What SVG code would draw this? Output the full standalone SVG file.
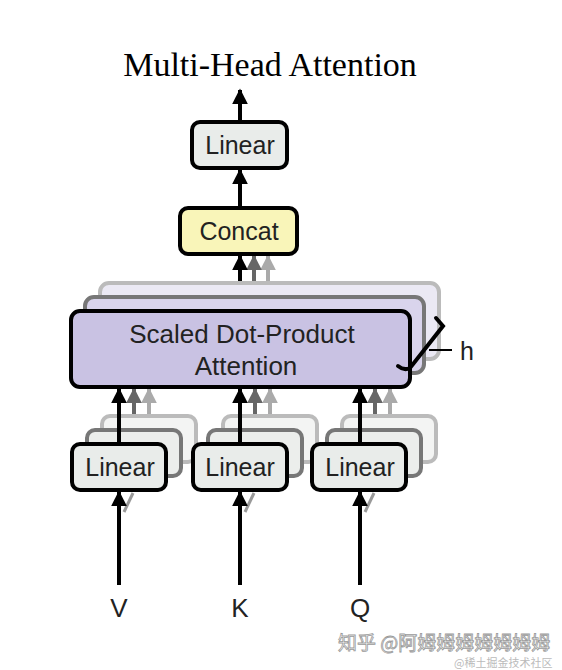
<svg xmlns="http://www.w3.org/2000/svg" width="562" height="670" viewBox="0 0 562 670">
<defs>
<marker id="ah" viewBox="0 0 10 10" refX="9" refY="5" markerWidth="4" markerHeight="4" orient="auto" markerUnits="strokeWidth"><path d="M0,0 L10,5 L0,10 z" fill="#000"/></marker>
<marker id="ahg" viewBox="0 0 10 10" refX="9" refY="5" markerWidth="4" markerHeight="4" orient="auto" markerUnits="strokeWidth"><path d="M0,0 L10,5 L0,10 z" fill="#666"/></marker>
<marker id="ahl" viewBox="0 0 10 10" refX="9" refY="5" markerWidth="4" markerHeight="4" orient="auto" markerUnits="strokeWidth"><path d="M0,0 L10,5 L0,10 z" fill="#aaa"/></marker>
</defs>
<style>
.lbl{font-family:"Liberation Sans",Arial,sans-serif;font-size:25px;fill:#222;text-anchor:middle}
.big{font-size:26px}
.box{stroke:#000;stroke-width:4}
.lin{fill:#e9ecea}
.b2{stroke:#777;stroke-width:4}
.b3{stroke:#bbb;stroke-width:4}
.a{stroke:#000;stroke-width:4;fill:none;marker-end:url(#ah)}
.ag{stroke:#666;stroke-width:4;fill:none;marker-end:url(#ahg)}
.al{stroke:#aaa;stroke-width:4;fill:none;marker-end:url(#ahl)}
</style>
<rect width="562" height="670" fill="#fff"/>
<text x="270" y="76" font-family="Liberation Serif,'Times New Roman',serif" font-size="34" fill="#000" text-anchor="middle">Multi-Head Attention</text>

<g id="connectors">
<line class="a" x1="240" y1="122" x2="240" y2="90"/>
<line class="a" x1="240" y1="208" x2="240" y2="170"/>
<line class="al" x1="268" y1="283" x2="268" y2="256"/>
<line class="ag" x1="254" y1="297" x2="254" y2="256"/>
<line class="a" x1="240" y1="311" x2="240" y2="256"/>
<line class="al" x1="149" y1="416" x2="149" y2="389"/>
<line class="ag" x1="134" y1="430" x2="134" y2="389"/>
<line class="al" x1="270" y1="416" x2="270" y2="389"/>
<line class="ag" x1="255" y1="430" x2="255" y2="389"/>
<line class="al" x1="390" y1="416" x2="390" y2="389"/>
<line class="ag" x1="375" y1="430" x2="375" y2="389"/>
</g>

<g id="sdpa">
<rect x="100" y="283" width="339" height="76" rx="9" fill="#ebe9f4" class="b3"/>
<rect x="85" y="297" width="339" height="76" rx="9" fill="#d9d4ec" class="b2"/>
<rect x="71" y="311" width="339" height="76" rx="9" fill="#c9c2e3" class="box"/>
<text class="lbl big" x="242" y="343">Scaled Dot-Product</text>
<text class="lbl big" x="246" y="375">Attention</text>
</g>

<g id="h-brace">
<path d="M436,318 L443,326 L410,368 Q404,371 398,366" fill="none" stroke="#000" stroke-width="4" stroke-linecap="round"/>
<line x1="429" y1="350" x2="452" y2="350" stroke="#000" stroke-width="2"/>
<text class="lbl" x="467" y="360">h</text>
</g>

<g id="concat">
<rect x="180" y="208" width="117" height="46" rx="8" fill="#f9f5b9" class="box"/>
<text class="lbl" x="239" y="240">Concat</text>
</g>

<g id="linear-top">
<rect x="192" y="122" width="95" height="46" rx="8" class="box lin"/>
<text class="lbl" x="240" y="154">Linear</text>
</g>

<g id="linear-v">
<rect x="102" y="416" width="94" height="46" rx="8" fill="#f3f4f3" class="b3"/>
<rect x="87" y="430" width="94" height="46" rx="8" fill="#eceeec" class="b2"/>
<rect x="72" y="444" width="94" height="46" rx="8" class="box lin"/>
<text class="lbl" x="120" y="476">Linear</text>
</g>
<g id="linear-k">
<rect x="223" y="416" width="94" height="46" rx="8" fill="#f3f4f3" class="b3"/>
<rect x="208" y="430" width="94" height="46" rx="8" fill="#eceeec" class="b2"/>
<rect x="193" y="444" width="94" height="46" rx="8" class="box lin"/>
<text class="lbl" x="240" y="476">Linear</text>
</g>
<g id="linear-q">
<rect x="342" y="416" width="94" height="46" rx="8" fill="#f3f4f3" class="b3"/>
<rect x="327" y="430" width="94" height="46" rx="8" fill="#eceeec" class="b2"/>
<rect x="312" y="444" width="94" height="46" rx="8" class="box lin"/>
<text class="lbl" x="360" y="476">Linear</text>
</g>

<g id="connectors-2">
<line class="a" x1="119" y1="444" x2="119" y2="389"/>
<line class="a" x1="240" y1="444" x2="240" y2="389"/>
<line class="a" x1="360" y1="444" x2="360" y2="389"/>
<line x1="124" y1="512" x2="133" y2="493" stroke="#999" stroke-width="3"/>
<line x1="245" y1="512" x2="254" y2="493" stroke="#999" stroke-width="3"/>
<line x1="365" y1="512" x2="374" y2="493" stroke="#999" stroke-width="3"/>
<line class="a" x1="119" y1="585" x2="119" y2="492"/>
<line class="a" x1="240" y1="585" x2="240" y2="492"/>
<line class="a" x1="360" y1="585" x2="360" y2="492"/>
</g>

<text class="lbl big" x="119" y="617">V</text>
<text class="lbl big" x="240" y="617">K</text>
<text class="lbl big" x="360" y="617">Q</text>

<text x="338" y="650" font-family="'Noto Sans CJK SC',sans-serif" font-size="19" fill="#fff" stroke="#999" stroke-width="0.8">知乎 @阿姆姆姆姆姆姆姆</text>
<text x="454" y="667" font-family="'Noto Sans CJK SC',sans-serif" font-size="11" fill="#bbb">@稀土掘金技术社区</text>
</svg>
